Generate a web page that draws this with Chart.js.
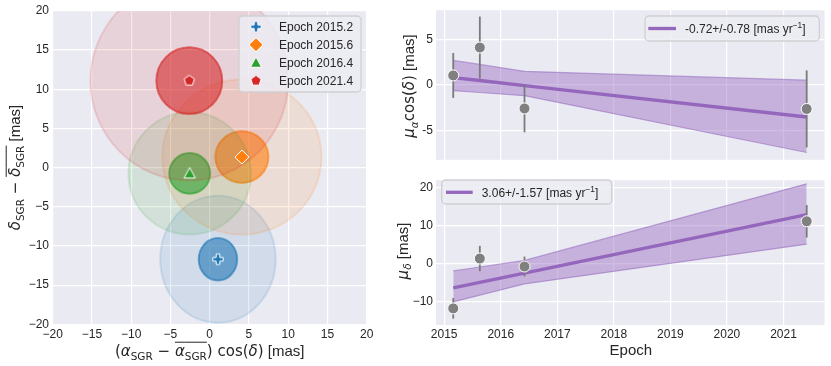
<!DOCTYPE html>
<html><head><meta charset="utf-8">
<script src="https://cdn.jsdelivr.net/npm/chart.js@4.4.1/dist/chart.umd.min.js"></script>
<style>
html,body{margin:0;padding:0;background:#fff;width:831px;height:366px;overflow:hidden}
.c{position:absolute}
</style></head><body>
<div class="c" style="left:0;top:0"><canvas id="pos" width="380" height="366"></canvas></div>
<div class="c" style="left:390px;top:0"><canvas id="pmra" width="441" height="170"></canvas></div>
<div class="c" style="left:390px;top:170px"><canvas id="pmdec" width="441" height="196"></canvas></div>
<script>
// ---------- data ----------
const epochLabels = ['Epoch 2015.2', 'Epoch 2015.6', 'Epoch 2016.4', 'Epoch 2021.4'];
const epochs = [2015.16, 2015.63, 2016.42, 2021.41];
const raOffset = [1.05, 4.1, -2.55, -2.6];
const raErr = [2.45, 3.38, 2.6, 4.2];
const decOffset = [-11.7, 1.35, -0.74, 11.1];
const decErr = [2.7, 3.3, 2.6, 4.25];
const sigmaLevels = [3, 1];
const raFit = [0.82, 0.50, -0.05, -3.48];
const raFitUpper = [2.69, 2.26, 1.5, 0.54];
const raFitLower = [-0.61, -0.81, -1.15, -7.35];
const decFit = [-6.34, -4.9, -2.47, 12.85];
const decFitUpper = [-1.9, -0.87, 0.86, 20.9];
const decFitLower = [-10.0, -8.25, -5.3, 5.1];
const raFitLabel = '-0.72+/-0.78 [mas yr⁻¹]';
const decFitLabel = '3.06+/-1.57 [mas yr⁻¹]';
const posTicks = [-20, -15, -10, -5, 0, 5, 10, 15, 20];
const posTickLabels = ['−20', '−15', '−10', '−5', '0', '5', '10', '15', '20'];
const epochTicks = [2015, 2016, 2017, 2018, 2019, 2020, 2021];
const epochTickLabels = ['2015', '2016', '2017', '2018', '2019', '2020', '2021'];
const raTicks = [-5, 0, 5];
const raTickLabels = ['-5', '0', '5'];
const decTicks = [-10, 0, 10, 20];
const decTickLabels = ['−10', '0', '10', '20'];

// ---------- style ----------
const TXT = '"Liberation Sans", Arial, sans-serif';
const MATH = '"DejaVu Sans", sans-serif';
const INK = '#262626';
const epochColors = [[31,119,180],[255,127,14],[44,160,44],[214,39,40]];
const rgba = (c, a) => `rgba(${c[0]},${c[1]},${c[2]},${a})`;
const PURPLE = [148,103,189];

function makeMarker(kind, col) {
  const c = document.createElement('canvas'); c.width = c.height = 20;
  const g = c.getContext('2d'); g.translate(10, 10);
  g.fillStyle = rgba(col, 1); g.strokeStyle = '#fff'; g.lineWidth = 1; g.lineJoin = 'miter';
  let pts = [];
  if (kind === 'plus') { const a = 5.2, t = 1.8;
    pts = [[-t,-a],[t,-a],[t,-t],[a,-t],[a,t],[t,t],[t,a],[-t,a],[-t,t],[-a,t],[-a,-t],[-t,-t]]; }
  else if (kind === 'diamond') { const r = 7; pts = [[0,-r],[r,0],[0,r],[-r,0]]; }
  else if (kind === 'triangle') { pts = [[0,-5.8],[5.6,4.6],[-5.6,4.6]]; }
  else { const r = 5.4; for (let k = 0; k < 5; k++) { const an = -Math.PI/2 + k*2*Math.PI/5; pts.push([r*Math.cos(an), r*Math.sin(an)]); } }
  g.beginPath(); pts.forEach((p, i) => i ? g.lineTo(p[0], p[1]) : g.moveTo(p[0], p[1])); g.closePath();
  g.fill(); g.stroke();
  return c;
}
const markerKinds = ['plus', 'diamond', 'triangle', 'pentagon'];
const markers = markerKinds.map((k, i) => makeMarker(k, epochColors[i]));

function drawRich(ctx, segs, x, y, size, opt = {}) {
  const items = segs.map(s => {
    const fs = (s.sub || s.sup) ? size * 0.7 : size;
    const font = (s.it ? 'italic ' : '') + fs + 'px ' + (s.math ? MATH : TXT);
    ctx.font = font;
    return Object.assign({}, s, { font, w: ctx.measureText(s.t).width });
  });
  const total = items.reduce((a, b) => a + b.w, 0);
  ctx.save(); ctx.translate(x, y); if (opt.rotate) ctx.rotate(-Math.PI / 2);
  ctx.fillStyle = INK; ctx.textBaseline = 'alphabetic'; ctx.textAlign = 'left';
  let cx = opt.align === 'left' ? 0 : -total / 2;
  const base = size * 0.36;
  items.forEach(s => {
    ctx.font = s.font;
    const dy = s.sub ? size * 0.22 : s.sup ? -size * 0.42 : 0;
    ctx.fillText(s.t, cx, base + dy);
    if (s.over) ctx.fillRect(cx, base - size * 0.98, s.w, 1);
    cx += s.w;
  });
  ctx.restore();
}
function labelSegs(str) {
  const p = str.split('⁻¹');
  return p.length > 1 ? [{ t: p[0] }, { t: '−1', sup: true }, { t: p[1] }] : [{ t: str }];
}
function legendBox(ctx, x, y, w, h) {
  ctx.save();
  ctx.beginPath(); ctx.roundRect(x, y, w, h, 4);
  ctx.fillStyle = 'rgba(236,236,243,0.85)'; ctx.fill();
  ctx.strokeStyle = '#cfcfd3'; ctx.lineWidth = 1.3; ctx.stroke();
  ctx.restore();
}

const bg = { id: 'bg', beforeDraw(c) { const a = c.chartArea, x = c.ctx; x.save(); x.fillStyle = '#EAEAF2'; x.fillRect(a.left, a.top, a.right - a.left, a.bottom - a.top); x.restore(); } };

function axis(min, max, ticks, labels, o) {
  return {
    type: 'linear', min, max,
    grid: { color: '#ffffff', lineWidth: 1.2, drawTicks: false },
    border: { display: false },
    ticks: { display: o.show !== false, padding: o.pad, color: INK, font: { family: TXT, size: 12 }, autoSkip: false, maxRotation: 0, minRotation: 0,
      callback: (v, i) => labels[i] },
    afterBuildTicks: s => { s.ticks = ticks.map(v => ({ value: v })); },
    afterFit: s => { if (o.width != null) s.width = o.width; if (o.height != null) s.height = o.height; }
  };
}
const common = { responsive: false, animation: false, devicePixelRatio: 1,
  events: [] };

// ---------- left: positions ----------
const ellipses = { id: 'ellipses', beforeDatasetsDraw(c) {
  const ctx = c.ctx, a = c.chartArea, xs = c.scales.x, ys = c.scales.y;
  ctx.save(); ctx.beginPath(); ctx.rect(a.left, a.top, a.right - a.left, a.bottom - a.top); ctx.clip();
  epochs.forEach((e, i) => {
    sigmaLevels.forEach(l => {
      const cx = xs.getPixelForValue(raOffset[i]), cy = ys.getPixelForValue(decOffset[i]);
      const rx = Math.abs(xs.getPixelForValue(raOffset[i] + l * raErr[i]) - cx);
      const ry = Math.abs(ys.getPixelForValue(decOffset[i] + l * decErr[i]) - cy);
      ctx.beginPath(); ctx.ellipse(cx, cy, rx, ry, 0, 0, Math.PI * 2);
      ctx.fillStyle = rgba(epochColors[i], l === 1 ? 0.6 : 0.12); ctx.fill();
      ctx.strokeStyle = rgba(epochColors[i], l === 1 ? 0.6 : 0.14); ctx.lineWidth = 2; ctx.stroke();
    });
  });
  ctx.restore();
}};
const posDecor = { id: 'posDecor', afterDraw(c) {
  const ctx = c.ctx;
  legendBox(ctx, 239, 16, 122, 76);
  epochLabels.forEach((lab, i) => {
    const y = 26.7 + 18 * i;
    ctx.drawImage(markers[i], 256 - 10, y - 10);
    drawRich(ctx, [{ t: lab }], 279, y, 12, { align: 'left' });
  });
  drawRich(ctx, [{ t: '(', math: 1 }, { t: 'α', it: 1, math: 1 }, { t: 'SGR', sub: 1, math: 1 }, { t: ' − ', math: 1 },
    { t: 'α', it: 1, math: 1, over: 1 }, { t: 'SGR', sub: 1, math: 1, over: 1 }, { t: ')', math: 1 }, { t: ' cos(', math: 1 },
    { t: 'δ', it: 1, math: 1 }, { t: ')', math: 1 }, { t: ' [mas]' }], 209.7, 351, 15);
  drawRich(ctx, [{ t: 'δ', it: 1, math: 1 }, { t: 'SGR', sub: 1, math: 1 }, { t: ' − ', math: 1 },
    { t: 'δ', it: 1, math: 1, over: 1 }, { t: 'SGR', sub: 1, math: 1, over: 1 }, { t: ' [mas]' }], 15, 167.5, 15, { rotate: true });
}};
new Chart(document.getElementById('pos'), {
  type: 'scatter',
  data: { datasets: epochLabels.map((lab, i) => ({
    label: lab, data: [{ x: raOffset[i], y: decOffset[i] }], pointStyle: markers[i], pointRadius: 7,
    backgroundColor: rgba(epochColors[i], 1) })) },
  options: Object.assign({}, common, {
    layout: { padding: { left: 0, top: 10.7, right: 13.3, bottom: 0 } },
    plugins: { legend: { display: false }, tooltip: { enabled: false } },
    scales: {
      x: axis(-20, 20, posTicks, posTickLabels, { pad: 3, height: 41.7 }),
      y: axis(-20, 20, posTicks, posTickLabels, { pad: 3.7, width: 52.7 })
    }
  }),
  plugins: [bg, ellipses, posDecor]
});

// ---------- right: proper motion panels ----------
function errorBars(vals, errs) {
  return { id: 'eb', beforeDatasetDraw(c, args) {
    if (args.index !== 0) return;
    const ctx = c.ctx, xs = c.scales.x, ys = c.scales.y;
    ctx.save(); ctx.strokeStyle = '#7a7a7a'; ctx.lineWidth = 1.8;
    epochs.forEach((e, i) => {
      const px = xs.getPixelForValue(e);
      ctx.beginPath(); ctx.moveTo(px, ys.getPixelForValue(vals[i] - errs[i])); ctx.lineTo(px, ys.getPixelForValue(vals[i] + errs[i])); ctx.stroke();
    });
    ctx.restore();
  }};
}
function pmDatasets(vals, fit, up, lo, label) {
  const pts = arr => epochs.map((e, i) => ({ x: e, y: arr[i] }));
  return [
    { label: 'measurements', data: pts(vals), showLine: false, pointRadius: 5.5, pointBackgroundColor: '#808080', pointBorderColor: '#ffffff', pointBorderWidth: 1, order: 0 },
    { label, data: pts(fit), borderColor: rgba(PURPLE, 1), borderWidth: 3.3, pointRadius: 0, fill: false, tension: 0, order: 1 },
    { label: 'upper', data: pts(up), borderColor: rgba(PURPLE, 0.55), borderWidth: 1.2, pointRadius: 0, fill: '+1', backgroundColor: rgba(PURPLE, 0.43), tension: 0, order: 2 },
    { label: 'lower', data: pts(lo), borderColor: rgba(PURPLE, 0.55), borderWidth: 1.2, pointRadius: 0, fill: false, tension: 0, order: 3 }
  ];
}
function pmLegend(box, lineX0, lineX1, lineY, textX, label) {
  return { id: 'pmLegend', afterDraw(c) {
    const ctx = c.ctx;
    legendBox(ctx, box[0], box[1], box[2], box[3]);
    ctx.save(); ctx.strokeStyle = rgba(PURPLE, 1); ctx.lineWidth = 3.3;
    ctx.beginPath(); ctx.moveTo(lineX0, lineY); ctx.lineTo(lineX1, lineY); ctx.stroke(); ctx.restore();
    drawRich(ctx, labelSegs(label), textX, lineY, 12, { align: 'left' });
  }};
}
const raTitle = { id: 'raTitle', afterDraw(c) {
  drawRich(c.ctx, [{ t: 'μ', it: 1, math: 1 }, { t: 'α', it: 1, math: 1, sub: 1 }, { t: 'cos(', math: 1 }, { t: 'δ', it: 1, math: 1 }, { t: ')', math: 1 }, { t: ' [mas]' }], 19, 86, 15, { rotate: true });
}};
const decTitle = { id: 'decTitle', afterDraw(c) {
  drawRich(c.ctx, [{ t: 'μ', it: 1, math: 1 }, { t: 'δ', it: 1, math: 1, sub: 1 }, { t: ' [mas]' }], 12.5, 81, 15, { rotate: true });
  drawRich(c.ctx, [{ t: 'Epoch' }], 240.8, 180, 15);
}};

new Chart(document.getElementById('pmra'), {
  type: 'line',
  data: { datasets: pmDatasets(raOffset, raFit, raFitUpper, raFitLower, raFitLabel) },
  options: Object.assign({}, common, {
    layout: { padding: { left: 0, top: 10, right: 5.3, bottom: 0 } },
    plugins: { legend: { display: false }, tooltip: { enabled: false } },
    scales: {
      x: axis(2014.855, 2021.725, epochTicks, epochTickLabels, { show: false, pad: 0, height: 8.3 }),
      y: axis(-8.15, 8.17, raTicks, raTickLabels, { pad: 3, width: 46 })
    }
  }),
  plugins: [bg, errorBars(raOffset, raErr), pmLegend([255, 16, 174.3, 25], 258.3, 286, 28.5, 295, raFitLabel), raTitle]
});

new Chart(document.getElementById('pmdec'), {
  type: 'line',
  data: { datasets: pmDatasets(decOffset, decFit, decFitUpper, decFitLower, decFitLabel) },
  options: Object.assign({}, common, {
    layout: { padding: { left: 0, top: 7, right: 5.3, bottom: 0 } },
    plugins: { legend: { display: false }, tooltip: { enabled: false } },
    scales: {
      x: axis(2014.855, 2021.725, epochTicks, epochTickLabels, { pad: 2, height: 41 }),
      y: axis(-16.05, 21.85, decTicks, decTickLabels, { pad: 3, width: 46 })
    }
  }),
  plugins: [bg, errorBars(decOffset, decErr), pmLegend([51.7, 10, 170, 24], 56, 82.7, 22.3, 91.7, decFitLabel), decTitle]
});
</script>
</body></html>
